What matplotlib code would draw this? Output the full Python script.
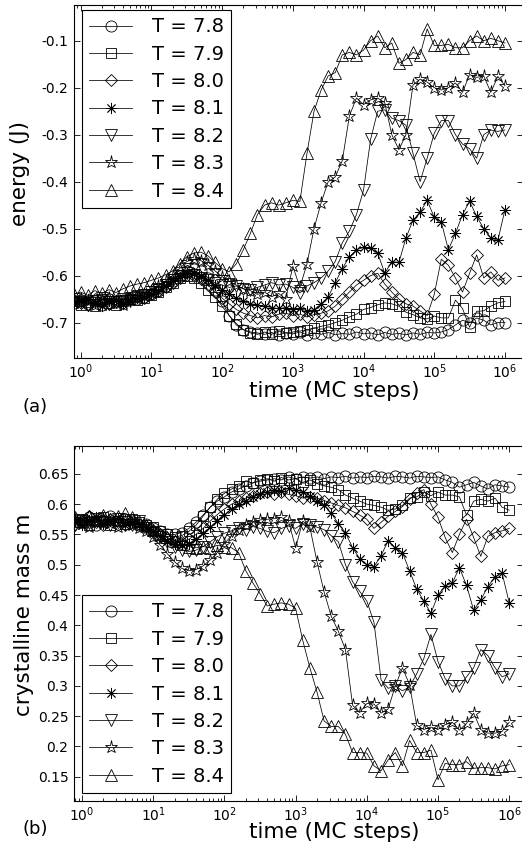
import numpy as np
import matplotlib
matplotlib.use("Agg")
import matplotlib.pyplot as plt

plt.rcParams['font.family'] = ['DejaVu Sans']
plt.rcParams['axes.unicode_minus'] = False

# MC time grid (shared by both panels)
t = [0.794, 1.0, 1.259, 1.585, 1.995, 2.512, 3.162, 3.981, 5.012, 6.31, 7.943,
     10.0, 12.59, 15.85, 19.95, 25.12, 31.62, 39.81, 50.12, 63.1, 79.43,
     100, 125.9, 158.5, 199.5, 251.2, 316.2, 398.1, 501.2, 631, 794.3,
     1000, 1259, 1585, 1995, 2512, 3162, 3981, 5012, 6310, 7943,
     1e4, 12590, 15850, 19950, 25120, 31620, 39810, 50120, 63100, 79430,
     1e5, 125900, 158500, 199500, 251200, 316200, 398100, 501200, 631000, 794300, 1e6]

labels = ['T = 7.8', 'T = 7.9', 'T = 8.0', 'T = 8.1', 'T = 8.2', 'T = 8.3', 'T = 8.4']

# (a) energy per series
e78 = [-0.658, -0.652, -0.660, -0.655, -0.662, -0.650, -0.656, -0.652, -0.648, -0.650, -0.645,
       -0.640, -0.632, -0.622, -0.612, -0.600, -0.590, -0.585, -0.590, -0.605, -0.630,
       -0.655, -0.685, -0.705, -0.715, -0.720, -0.722, -0.725, -0.721, -0.726, -0.722,
       -0.724, -0.720, -0.726, -0.722, -0.725, -0.721, -0.726, -0.723, -0.725, -0.720,
       -0.724, -0.722, -0.726, -0.721, -0.725, -0.723, -0.726, -0.722, -0.725, -0.721,
       -0.722, -0.720, -0.715, -0.705, -0.695, -0.700, -0.690, -0.695, -0.705, -0.700, -0.700]
e79 = [-0.655, -0.662, -0.657, -0.664, -0.650, -0.658, -0.662, -0.655, -0.650, -0.652, -0.648,
       -0.642, -0.635, -0.625, -0.615, -0.605, -0.600, -0.605, -0.615, -0.630, -0.645,
       -0.665, -0.685, -0.702, -0.715, -0.722, -0.725, -0.720, -0.725, -0.718, -0.722,
       -0.720, -0.718, -0.715, -0.712, -0.708, -0.705, -0.700, -0.695, -0.688, -0.682,
       -0.672, -0.668, -0.662, -0.658, -0.660, -0.665, -0.678, -0.683, -0.690, -0.692,
       -0.686, -0.690, -0.690, -0.652, -0.670, -0.710, -0.676, -0.675, -0.665, -0.658, -0.655]
e80 = [-0.652, -0.658, -0.663, -0.650, -0.657, -0.661, -0.653, -0.658, -0.650, -0.646, -0.648,
       -0.640, -0.632, -0.625, -0.615, -0.605, -0.598, -0.600, -0.608, -0.620, -0.635,
       -0.648, -0.660, -0.672, -0.680, -0.685, -0.690, -0.685, -0.688, -0.682, -0.680,
       -0.685, -0.682, -0.688, -0.683, -0.680, -0.675, -0.665, -0.650, -0.635, -0.620,
       -0.610, -0.600, -0.595, -0.618, -0.635, -0.650, -0.660, -0.665, -0.675, -0.685,
       -0.640, -0.565, -0.578, -0.605, -0.635, -0.595, -0.556, -0.605, -0.592, -0.610, -0.605]
e81 = [-0.660, -0.654, -0.650, -0.659, -0.664, -0.655, -0.651, -0.660, -0.654, -0.648, -0.645,
       -0.640, -0.632, -0.622, -0.612, -0.602, -0.595, -0.595, -0.600, -0.610, -0.620,
       -0.630, -0.640, -0.648, -0.655, -0.660, -0.662, -0.665, -0.668, -0.670, -0.668,
       -0.672, -0.670, -0.675, -0.673, -0.660, -0.645, -0.615, -0.585, -0.560, -0.545,
       -0.540, -0.542, -0.552, -0.595, -0.570, -0.572, -0.520, -0.482, -0.465, -0.440,
       -0.476, -0.486, -0.545, -0.510, -0.470, -0.442, -0.474, -0.500, -0.520, -0.525, -0.460]
e82 = [-0.650, -0.657, -0.662, -0.653, -0.648, -0.660, -0.656, -0.650, -0.655, -0.645, -0.642,
       -0.635, -0.628, -0.620, -0.610, -0.600, -0.595, -0.598, -0.605, -0.610, -0.615,
       -0.620, -0.625, -0.622, -0.628, -0.630, -0.625, -0.620, -0.615, -0.620, -0.618,
       -0.625, -0.637, -0.622, -0.615, -0.605, -0.590, -0.570, -0.530, -0.505, -0.470,
       -0.418, -0.310, -0.250, -0.247, -0.265, -0.270, -0.280, -0.340, -0.400, -0.350,
       -0.297, -0.270, -0.270, -0.300, -0.320, -0.330, -0.350, -0.300, -0.290, -0.293, -0.290]
e83 = [-0.657, -0.650, -0.655, -0.662, -0.652, -0.648, -0.657, -0.662, -0.650, -0.645, -0.640,
       -0.632, -0.622, -0.612, -0.600, -0.585, -0.570, -0.565, -0.568, -0.578, -0.590,
       -0.602, -0.612, -0.620, -0.628, -0.632, -0.640, -0.635, -0.645, -0.638, -0.650,
       -0.580, -0.625, -0.575, -0.500, -0.445, -0.400, -0.390, -0.355, -0.260, -0.222,
       -0.236, -0.226, -0.222, -0.232, -0.300, -0.332, -0.300, -0.194, -0.182, -0.188,
       -0.200, -0.205, -0.200, -0.190, -0.210, -0.172, -0.178, -0.175, -0.210, -0.176, -0.196]
e84 = [-0.640, -0.635, -0.642, -0.632, -0.638, -0.630, -0.636, -0.628, -0.622, -0.618, -0.615,
       -0.610, -0.605, -0.598, -0.590, -0.575, -0.560, -0.552, -0.550, -0.558, -0.572,
       -0.585, -0.592, -0.575, -0.545, -0.510, -0.470, -0.450, -0.445, -0.450, -0.445,
       -0.440, -0.442, -0.340, -0.250, -0.205, -0.175, -0.168, -0.130, -0.125, -0.130,
       -0.120, -0.100, -0.090, -0.115, -0.105, -0.148, -0.140, -0.125, -0.130, -0.075,
       -0.110, -0.110, -0.108, -0.115, -0.115, -0.100, -0.090, -0.100, -0.095, -0.100, -0.105]

# (b) crystalline mass per series
m78 = [0.575, 0.570, 0.578, 0.565, 0.572, 0.580, 0.568, 0.575, 0.570, 0.565, 0.568,
       0.560, 0.555, 0.550, 0.550, 0.553, 0.560, 0.570, 0.582, 0.595, 0.605,
       0.612, 0.620, 0.625, 0.630, 0.635, 0.638, 0.640, 0.642, 0.640, 0.645,
       0.642, 0.645, 0.643, 0.645, 0.642, 0.645, 0.644, 0.646, 0.643, 0.645,
       0.644, 0.646, 0.645, 0.643, 0.646, 0.645, 0.643, 0.646, 0.645, 0.644,
       0.645, 0.640, 0.636, 0.628, 0.632, 0.636, 0.630, 0.625, 0.632, 0.630, 0.628]
m79 = [0.570, 0.576, 0.565, 0.572, 0.578, 0.566, 0.573, 0.568, 0.576, 0.570, 0.566,
       0.562, 0.556, 0.550, 0.546, 0.548, 0.555, 0.565, 0.580, 0.595, 0.608,
       0.618, 0.625, 0.630, 0.638, 0.635, 0.640, 0.642, 0.638, 0.644, 0.640,
       0.642, 0.636, 0.640, 0.634, 0.630, 0.628, 0.624, 0.615, 0.610, 0.605,
       0.600, 0.598, 0.595, 0.590, 0.592, 0.598, 0.610, 0.612, 0.620, 0.614,
       0.620, 0.615, 0.615, 0.612, 0.582, 0.605, 0.608, 0.605, 0.610, 0.595, 0.590]
m80 = [0.568, 0.574, 0.580, 0.570, 0.565, 0.576, 0.571, 0.566, 0.574, 0.568, 0.564,
       0.558, 0.550, 0.544, 0.540, 0.538, 0.542, 0.550, 0.560, 0.572, 0.583,
       0.592, 0.600, 0.605, 0.610, 0.614, 0.618, 0.620, 0.617, 0.620, 0.616,
       0.614, 0.610, 0.612, 0.610, 0.606, 0.602, 0.598, 0.594, 0.588, 0.582,
       0.575, 0.560, 0.570, 0.580, 0.588, 0.596, 0.608, 0.618, 0.624, 0.600,
       0.578, 0.545, 0.520, 0.550, 0.575, 0.545, 0.514, 0.547, 0.553, 0.556, 0.560]
m81 = [0.572, 0.566, 0.574, 0.579, 0.568, 0.572, 0.577, 0.566, 0.571, 0.567, 0.562,
       0.556, 0.548, 0.540, 0.535, 0.532, 0.535, 0.542, 0.552, 0.562, 0.572,
       0.582, 0.592, 0.600, 0.606, 0.612, 0.616, 0.620, 0.624, 0.622, 0.626,
       0.624, 0.620, 0.614, 0.606, 0.598, 0.585, 0.568, 0.553, 0.528, 0.510,
       0.500, 0.497, 0.515, 0.540, 0.528, 0.520, 0.490, 0.460, 0.440, 0.420,
       0.450, 0.465, 0.470, 0.495, 0.466, 0.425, 0.442, 0.464, 0.480, 0.486, 0.437]
m82 = [0.566, 0.573, 0.569, 0.576, 0.571, 0.565, 0.575, 0.570, 0.566, 0.572, 0.560,
       0.552, 0.545, 0.538, 0.530, 0.525, 0.522, 0.524, 0.530, 0.538, 0.546,
       0.552, 0.556, 0.560, 0.558, 0.563, 0.560, 0.555, 0.553, 0.560, 0.564,
       0.560, 0.568, 0.565, 0.562, 0.558, 0.548, 0.538, 0.500, 0.472, 0.456,
       0.440, 0.405, 0.310, 0.296, 0.300, 0.292, 0.298, 0.320, 0.345, 0.385,
       0.340, 0.312, 0.300, 0.300, 0.315, 0.330, 0.360, 0.350, 0.330, 0.315, 0.320]
m83 = [0.574, 0.568, 0.562, 0.570, 0.576, 0.569, 0.563, 0.572, 0.566, 0.561, 0.555,
       0.545, 0.532, 0.518, 0.505, 0.494, 0.490, 0.492, 0.498, 0.508, 0.520,
       0.535, 0.548, 0.558, 0.565, 0.570, 0.574, 0.575, 0.576, 0.578, 0.572,
       0.528, 0.572, 0.562, 0.505, 0.455, 0.415, 0.390, 0.360, 0.268, 0.256,
       0.271, 0.270, 0.255, 0.262, 0.300, 0.330, 0.302, 0.235, 0.228, 0.232,
       0.228, 0.236, 0.240, 0.227, 0.238, 0.255, 0.228, 0.222, 0.222, 0.225, 0.240]
m84 = [0.578, 0.572, 0.580, 0.575, 0.582, 0.576, 0.580, 0.585, 0.578, 0.572, 0.565,
       0.558, 0.550, 0.545, 0.540, 0.535, 0.530, 0.528, 0.530, 0.528, 0.532,
       0.530, 0.528, 0.520, 0.490, 0.470, 0.452, 0.432, 0.435, 0.437, 0.435,
       0.428, 0.375, 0.330, 0.290, 0.242, 0.233, 0.233, 0.220, 0.190, 0.190,
       0.189, 0.168, 0.160, 0.178, 0.190, 0.168, 0.210, 0.190, 0.190, 0.194,
       0.145, 0.172, 0.170, 0.170, 0.175, 0.164, 0.165, 0.165, 0.163, 0.168, 0.170]

energy = [e78, e79, e80, e81, e82, e83, e84]
mass = [m78, m79, m80, m81, m82, m83, m84]

x_ticks = [1, 10, 100, 1e3, 1e4, 1e5, 1e6]
x_ticklabels = [r'$10^{0}$', r'$10^{1}$', r'$10^{2}$', r'$10^{3}$', r'$10^{4}$', r'$10^{5}$', r'$10^{6}$']
e_ticks = [-0.7, -0.6, -0.5, -0.4, -0.3, -0.2, -0.1]
e_ticklabels = ['-0.7', '-0.6', '-0.5', '-0.4', '-0.3', '-0.2', '-0.1']
m_ticks = [0.15, 0.2, 0.25, 0.3, 0.35, 0.4, 0.45, 0.5, 0.55, 0.6, 0.65]
m_ticklabels = ['0.15', '0.2', '0.25', '0.3', '0.35', '0.4', '0.45', '0.5', '0.55', '0.6', '0.65']

markers = ['o', 's', 'D', (8, 2, 0), 'v', '*', '^']
msizes = [8, 7, 6, 8, 8.5, 9.5, 8.5]

W, H = 522, 858
fig = plt.figure(figsize=(W / 100, H / 100), dpi=100)


def px_axes(left, top, right, bottom):
    return fig.add_axes([left / W, 1 - bottom / H, (right - left) / W, (bottom - top) / H])


def style(ax, xlim, ylim, ticks, ticklabels):
    ax.set_xscale('log')
    ax.set_xlim(*xlim)
    ax.set_ylim(*ylim)
    ax.set_xticks(x_ticks)
    ax.set_xticklabels(x_ticklabels)
    ax.xaxis.set_minor_locator(matplotlib.ticker.LogLocator(base=10, subs=np.arange(2, 10), numticks=20))
    ax.xaxis.set_minor_formatter(matplotlib.ticker.NullFormatter())
    ax.set_yticks(ticks)
    ax.set_yticklabels(ticklabels)
    ax.tick_params(which='both', direction='in', top=True, right=True,
                   width=0.6, labelsize=10, colors='black')
    ax.tick_params(which='major', length=4, pad=4)
    ax.tick_params(axis='x', which='major', pad=3)
    ax.tick_params(which='minor', length=2)
    for s in ax.spines.values():
        s.set_linewidth(0.8)


def draw(ax, data):
    for y, mk, ms, lab in zip(data, markers, msizes, labels):
        ax.plot(t, y, color='black', linewidth=0.55, marker=mk, markersize=ms,
                markerfacecolor='none', markeredgecolor='black',
                markeredgewidth=0.6, label=lab)


def add_legend(ax, y_anchor):
    leg = ax.legend(loc='upper left', bbox_to_anchor=(0.018, y_anchor), borderaxespad=0,
                    fancybox=False, edgecolor='black', framealpha=1, fontsize=14,
                    handlelength=2.2, handletextpad=1.0, labelspacing=0.43,
                    borderpad=0.38)
    leg.get_frame().set_linewidth(0.8)


# panel (a)
ax1 = px_axes(74, 5, 523, 358.3)
draw(ax1, energy)
style(ax1, (0.804, 1.8e6), (-0.776, -0.024), e_ticks, e_ticklabels)
add_legend(ax1, 0.986)

# panel (b)
ax2 = px_axes(74, 446, 523, 801)
draw(ax2, mass)
style(ax2, (0.772, 1.56e6), (0.11, 0.696), m_ticks, m_ticklabels)
add_legend(ax2, 0.58)

fig.text(20 / W, 1 - 174 / H, 'energy (J)', rotation=90, ha='center', va='center', fontsize=15.5)
fig.text(334 / W, 1 - 381 / H, 'time (MC steps)', ha='center', va='top', fontsize=15.5)
fig.text(35 / W, 1 - 407 / H, '(a)', ha='center', va='center', fontsize=13)

fig.text(24 / W, 1 - 615 / H, 'crystalline mass m', rotation=90, ha='center', va='center', fontsize=15.5)
fig.text(334 / W, 1 - 822 / H, 'time (MC steps)', ha='center', va='top', fontsize=15.5)
fig.text(35 / W, 1 - 829 / H, '(b)', ha='center', va='center', fontsize=13)

fig.savefig('out.png', dpi=100)
